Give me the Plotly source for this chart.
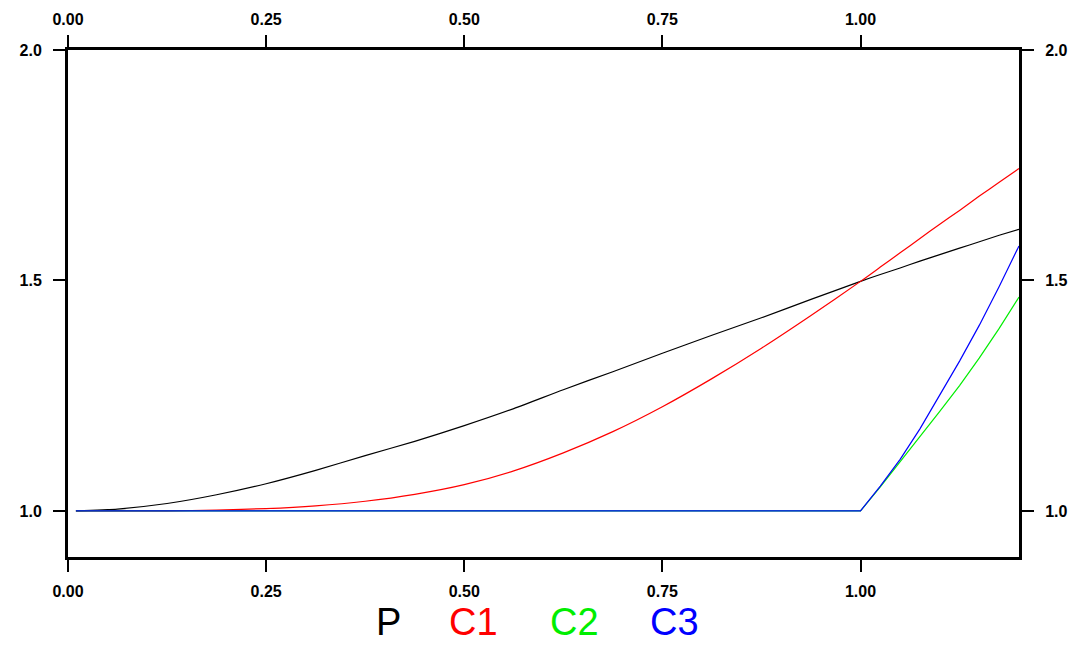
import plotly.graph_objects as go

# Data
x_vals = [0.01, 0.0625, 0.125, 0.1875, 0.25, 0.3125, 0.375, 0.4375, 0.5, 0.5625,
          0.625, 0.6875, 0.75, 0.8125, 0.875, 0.9375, 1.0, 1.025, 1.05, 1.075,
          1.1, 1.125, 1.15, 1.175, 1.2]
p_vals = [1.0, 1.004, 1.016, 1.035, 1.059, 1.088, 1.120, 1.151, 1.185, 1.222,
          1.263, 1.302, 1.342, 1.381, 1.419, 1.459, 1.498, 1.513, 1.527, 1.542,
          1.556, 1.570, 1.584, 1.598, 1.611]
c1_vals = [1.0, 1.0, 1.0, 1.002, 1.005, 1.011, 1.021, 1.036, 1.057, 1.087,
           1.126, 1.172, 1.226, 1.287, 1.353, 1.424, 1.498, 1.529, 1.560, 1.591,
           1.622, 1.652, 1.683, 1.713, 1.743]
c2_vals = [1.0, 1.0, 1.0, 1.0, 1.0, 1.0, 1.0, 1.0, 1.0, 1.0,
           1.0, 1.0, 1.0, 1.0, 1.0, 1.0, 1.0, 1.052, 1.106, 1.160,
           1.216, 1.272, 1.332, 1.396, 1.464]
c3_vals = [1.0, 1.0, 1.0, 1.0, 1.0, 1.0, 1.0, 1.0, 1.0, 1.0,
           1.0, 1.0, 1.0, 1.0, 1.0, 1.0, 1.0, 1.054, 1.112, 1.178,
           1.250, 1.325, 1.403, 1.487, 1.575]
series_names = ["P", "C1", "C2", "C3"]
series_colors = ["#000000", "#ff0000", "#00ee00", "#0000ff"]
series_shapes = ["spline", "spline", "linear", "linear"]
x_ticks = [0.0, 0.25, 0.5, 0.75, 1.0]
y_ticks = [1.0, 1.5, 2.0]
legend_x = [0.337, 0.4265, 0.5325, 0.638]

fig = go.Figure()
for name, ys, col, shp in zip(series_names, [p_vals, c1_vals, c2_vals, c3_vals],
                              series_colors, series_shapes):
    line = dict(color=col, width=1.2, shape=shp)
    if shp == "spline":
        line["smoothing"] = 0.6
    fig.add_trace(go.Scatter(x=x_vals, y=ys, mode="lines", name=name, line=line,
                             showlegend=False, hoverinfo="skip"))
# invisible trace to anchor top/right axes
fig.add_trace(go.Scatter(x=[x_vals[0]], y=[1.0], xaxis="x2", yaxis="y2",
                         mode="markers", marker=dict(opacity=0), showlegend=False,
                         hoverinfo="skip"))

tickfont = dict(family="Liberation Sans, Arial, sans-serif", size=16, color="black", weight="bold")
common_x = dict(range=[0, 1.2], tickvals=x_ticks, tickformat=".2f", ticks="outside",
                ticklen=12, tickwidth=2, tickcolor="black", showgrid=False,
                zeroline=False, showline=True, linecolor="black", linewidth=3,
                tickfont=tickfont, automargin=False)
common_y = dict(range=[0.9, 2.0], tickvals=y_ticks, tickformat=".1f", ticks="outside",
                ticklen=12, tickwidth=2, tickcolor="black", showgrid=False,
                zeroline=False, showline=True, linecolor="black", linewidth=3,
                tickfont=tickfont, ticklabelstandoff=8, automargin=False)

fig.update_layout(
    width=1081, height=645,
    margin=dict(l=68, r=62, t=50, b=88, autoexpand=False),
    paper_bgcolor="white", plot_bgcolor="white",
    xaxis=dict(**common_x, side="bottom", ticklabelstandoff=6),
    xaxis2=dict(**common_x, side="top", overlaying="x", anchor="y", ticklabelstandoff=4),
    yaxis=dict(**common_y, side="left"),
    yaxis2=dict(**common_y, side="right", overlaying="y", anchor="x"),
    showlegend=False,
)

for name, col, lx in zip(series_names, series_colors, legend_x):
    fig.add_annotation(text=name, x=lx, y=-0.128, xref="paper", yref="paper",
                       xanchor="center", yanchor="middle", showarrow=False,
                       font=dict(family="Liberation Sans, Arial, sans-serif", size=38, color=col))

fig.write_html("out.html")
